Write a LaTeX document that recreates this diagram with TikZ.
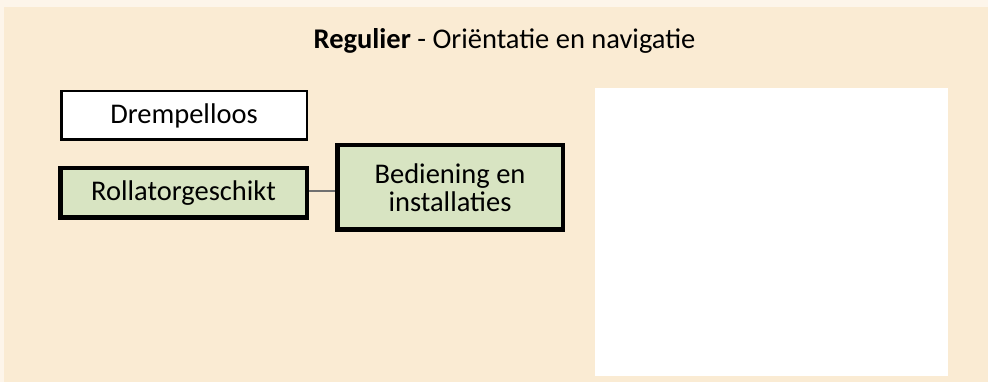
\documentclass[tikz,border=0pt]{standalone}
\usepackage{fontspec}
\setmainfont{Carlito}
\definecolor{bgbeige}{HTML}{FAEBD3}
\definecolor{bgstrip}{HTML}{FDF5EA}
\definecolor{boxgreen}{HTML}{D8E4C2}
\definecolor{linkgray}{HTML}{707070}
\tikzset{
  plainbox/.style={draw=black, line width=2.5pt, fill=white, inner sep=0pt, font=\fontsize{28.5}{28}\selectfont},
  greenbox/.style={draw=black, line width=4.5pt, fill=boxgreen, inner sep=0pt, align=center, font=\fontsize{28.5}{28}\selectfont},
  link/.style={draw=linkgray, line width=2pt}
}
\begin{document}
\begin{tikzpicture}[x=1pt,y=-1pt]
\useasboundingbox (0,0) rectangle (988,382);
\fill[bgstrip] (0,0) rectangle (988,382);
\fill[bgbeige] (4,7) rectangle (988,382);
\node[font=\fontsize{28.5}{28}\selectfont, anchor=base] (title) at (504.5,48.3) {\textbf{Regulier} - Oriëntatie en navigatie};
\node[plainbox, minimum width=245.5pt, minimum height=48.5pt] (drempel) at (184,115.5) {Drempelloos};
\node[greenbox, minimum width=246.5pt, minimum height=49.5pt] (rollator) at (183.5,193) {Rollatorgeschikt};
\node[greenbox, minimum width=225.5pt, minimum height=84.5pt] (bediening) at (450,187.5) {Bediening en\\installaties};
\coordinate (linkstart) at ([yshift=2.3pt]rollator.east);
\draw[link] (linkstart) -- (bediening.west |- linkstart);
\fill[white] (595,88) rectangle (948,376);
\end{tikzpicture}
\end{document}
